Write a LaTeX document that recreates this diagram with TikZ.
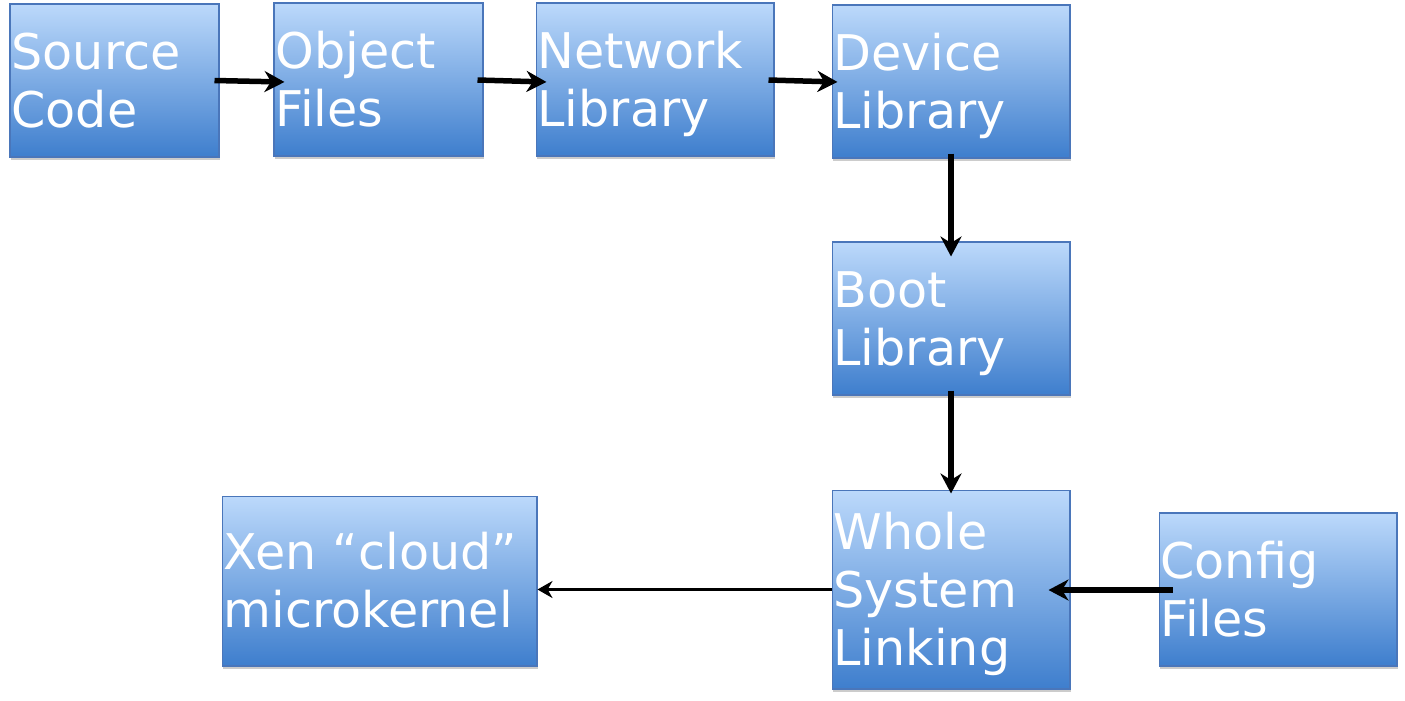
\documentclass[tikz,border=0pt]{standalone}
\usepackage{fontspec}
\setmainfont{DejaVu Sans}
\usepackage{xcolor}
\usepackage{tikz}
\usetikzlibrary{arrows.meta,calc,shadows}
\definecolor{boxtop}{RGB}{188,217,251}
\definecolor{boxbot}{RGB}{62,126,205}
\definecolor{boxline}{RGB}{74,118,186}

\begin{document}
\begin{tikzpicture}[x=0.02cm,y=-0.02cm,
  blk/.style={draw=boxline,line width=0.6pt,top color=boxtop,bottom color=boxbot,
    drop shadow={opacity=0.4,shadow xshift=0.02cm,shadow yshift=-0.07cm},
    text=white,align=left,inner xsep=0.03cm,inner ysep=0pt,
    font=\fontsize{28}{33}\selectfont,
    execute at begin node={\rule{0pt}{0.98em}},
    execute at end node={\rule[-0.25em]{0pt}{0pt}}},
  flow/.style={line width=0.11cm,-{Stealth[length=0.4cm,width=0.42cm]}},
  thinflow/.style={line width=0.075cm,-{Stealth[length=0.3cm,width=0.34cm]}}]
  \useasboundingbox (0,0) rectangle (1405,700);
  \node[blk,text width=4.12cm,minimum height=3.06cm] (src) at (114.5,80.5) {Source\\Code};
  \node[blk,text width=4.12cm,minimum height=3.06cm] (obj) at (378.5,79.5) {Object\\Files};
  \node[blk,text width=4.70cm,minimum height=3.06cm] (net) at (655,79.5) {Network\\Library};
  \node[blk,text width=4.70cm,minimum height=3.06cm] (dev) at (951,81.5) {Device\\Library};
  \node[blk,text width=4.70cm,minimum height=3.06cm] (boot) at (951,318.5) {Boot\\Library};
  \node[blk,text width=4.70cm,minimum height=3.98cm] (whole) at (951,589.5) {Whole\\System\\Linking};
  \node[blk,text width=4.70cm,minimum height=3.06cm] (cfg) at (1278,589.5) {Config\\Files};
  \node[blk,text width=6.24cm,minimum height=3.40cm] (xen) at (379.5,581) {Xen ``cloud''\\microkernel};
  \draw[flow] ($(src.east)+(-5,0)$) -- ($(obj.west)+(11,2.5)$);
  \draw[flow] ($(obj.east)+(-6,0.5)$) -- ($(net.west)+(11,2.5)$);
  \draw[flow] ($(net.east)+(-6,0.5)$) -- ($(dev.west)+(6,0.5)$);
  \draw[flow] ($(dev.south)+(0,-5)$) -- ($(boot.north)+(0,15)$);
  \draw[flow] ($(boot.south)+(0,-5)$) -- ($(whole.north)+(0,4)$);
  \draw[flow] ($(cfg.west)+(14,0.5)$) -- ($(whole.east)+(-22,0.5)$);
  \draw[thinflow] (whole.west) -- (whole.west -| xen.east);
\end{tikzpicture}
\end{document}
